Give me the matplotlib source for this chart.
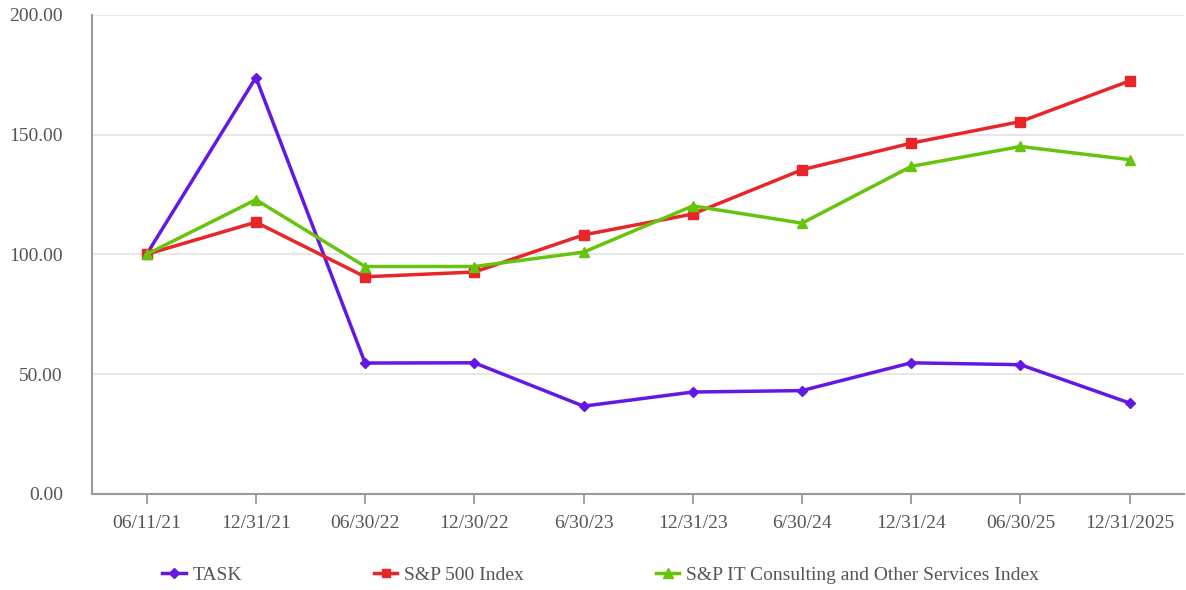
import matplotlib
matplotlib.use("Agg")
from matplotlib import pyplot as plt

dates = ["06/11/21", "12/31/21", "06/30/22", "12/30/22", "6/30/23",
         "12/31/23", "6/30/24", "12/31/24", "06/30/25", "12/31/2025"]

task = [100.0, 173.8, 54.6, 54.7, 36.6, 42.5, 43.1, 54.7, 53.9, 37.9]
sp500 = [100.0, 113.4, 90.6, 92.6, 108.1, 116.8, 135.3, 146.4, 155.4, 172.4]
sp_it = [100.0, 122.8, 94.9, 94.9, 100.9, 120.2, 113.0, 136.7, 145.0, 139.5]

plt.rcParams['font.family'] = ['Liberation Serif', 'DejaVu Serif']

fig = plt.figure(figsize=(11.86, 5.9), dpi=100)
ax = fig.add_axes([0.0776, 0.163, 0.921, 0.812])

x = list(range(len(dates)))
ax.plot(x, task, color="#6319e3", lw=2.5, marker="D", ms=5.5, label="TASK", zorder=3)
ax.plot(x, sp500, color="#e8262a", lw=2.5, marker="s", ms=7, label="S&P 500 Index", zorder=3)
ax.plot(x, sp_it, color="#66c40c", lw=2.5, marker="^", ms=7.5,
        label="S&P IT Consulting and Other Services Index", zorder=3)

ax.set_xlim(-0.5, 9.5)
ax.set_ylim(0, 200)
ax.set_yticks([0, 50, 100, 150, 200])
ax.set_yticklabels([f"{v:.2f}" for v in [0, 50, 100, 150, 200]])
ax.set_xticks(x)
ax.set_xticklabels(dates)

ax.grid(axis="y", color="#e3e3e3", lw=1.2)
ax.set_axisbelow(True)
for side in ["top", "right"]:
    ax.spines[side].set_visible(False)
for side in ["left", "bottom"]:
    ax.spines[side].set_color("#9a9a9a")
    ax.spines[side].set_linewidth(1.5)

ax.tick_params(axis="y", length=0, pad=21, labelsize=14, labelcolor="#555555")
ax.tick_params(axis="x", length=7, width=1.3, color="#9a9a9a", pad=8,
               labelsize=14, labelcolor="#555555")

fig.legend(loc="center left", bbox_to_anchor=(0.122, 0.0254), ncol=3, frameon=False,
           fontsize=14, labelcolor="#555555", handlelength=1.2, handletextpad=0.35,
           columnspacing=6.8, markerscale=0.9)

fig.savefig("out.png", dpi=100)
